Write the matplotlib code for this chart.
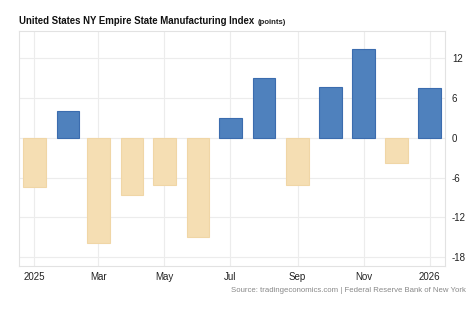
import matplotlib
matplotlib.use("Agg")
import matplotlib.pyplot as plt
import matplotlib.dates as mdates
from datetime import date

plt.rcParams['font.family'] = ['Liberation Sans', 'DejaVu Sans']

# Monthly readings of the index
months = ["2025-01", "2025-02", "2025-03", "2025-04", "2025-05", "2025-06", "2025-07",
          "2025-08", "2025-09", "2025-10", "2025-11", "2025-12", "2026-01"]
values = [-7.5, 4.0, -15.8, -8.7, -7.1, -14.9, 2.9, 8.9, -7.2, 7.6, 13.3, -3.8, 7.4]

yticks = [-18, -12, -6, 0, 6, 12]
xtick_dates = ["2025-01", "2025-03", "2025-05", "2025-07", "2025-09", "2025-11", "2026-01"]
xtick_labels = ["2025", "Mar", "May", "Jul", "Sep", "Nov", "2026"]

pos_color = "#4f81bd"
pos_edge = "#3b6cae"
neg_color = "#f5deb3"
neg_edge = "#f0d6a6"


def to_date(s):
    y, m = s.split("-")
    return date(int(y), int(m), 1)


dates = [to_date(m) for m in months]
xnum = mdates.date2num(dates)

fig = plt.figure(figsize=(4.74, 3.24), dpi=100)
ax = fig.add_axes([0.0407, 0.179, 0.898, 0.725])

colors = [pos_color if v >= 0 else neg_color for v in values]
edges = [pos_edge if v >= 0 else neg_edge for v in values]
ax.bar(xnum, values, width=21, color=colors, edgecolor=edges, linewidth=0.8, zorder=3)

ax.set_xlim(mdates.date2num(date(2024, 12, 18)), mdates.date2num(date(2026, 1, 15)))
ax.set_ylim(-19.3, 16.0)

ax.set_xticks(mdates.date2num([to_date(d) for d in xtick_dates]))
ax.set_xticklabels(xtick_labels, fontsize=7, color="#222222")
ax.set_yticks(yticks)
ax.set_yticklabels([str(t) for t in yticks], fontsize=7, color="#222222")
ax.yaxis.tick_right()
ax.tick_params(axis="both", length=0, pad=4)
ax.tick_params(axis="y", pad=5)

ax.grid(True, color="#ececec", linewidth=0.8, zorder=0)
for side in ["left", "right", "top", "bottom"]:
    ax.spines[side].set_color("#e2e2e2")
    ax.spines[side].set_linewidth(0.8)

title = fig.text(0.040, 0.927, "United States NY Empire State Manufacturing Index",
                 fontsize=6.9, fontweight="bold", color="#111111", ha="left", va="baseline")
# Unit label placed right after the title
fig.canvas.draw()
bb = title.get_window_extent(renderer=fig.canvas.get_renderer())
x_unit = (bb.x1 + 3) / fig.bbox.width
fig.text(x_unit, 0.927, "(points)", fontsize=5.6, fontweight="bold",
         color="#222222", ha="left", va="baseline")
fig.text(0.983, 0.098, "Source: tradingeconomics.com | Federal Reserve Bank of New York",
         fontsize=5.6, color="#888888", ha="right", va="baseline")

fig.savefig("out.png", dpi=100, facecolor="white")
